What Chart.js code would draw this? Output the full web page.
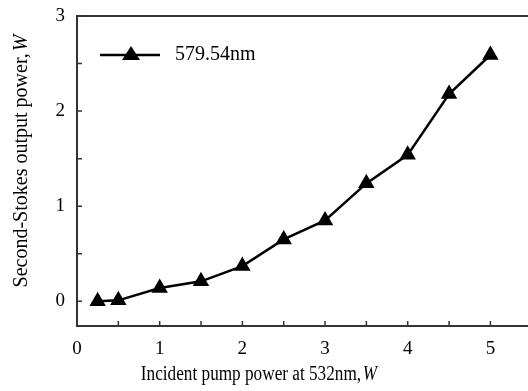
<!DOCTYPE html>
<html>
<head>
<meta charset="utf-8">
<script src="https://cdn.jsdelivr.net/npm/chart.js@4"></script>
<style>
  html, body { margin: 0; padding: 0; background: #fff; }
  #wrap { width: 528px; height: 391px; }
</style>
</head>
<body>
<div id="wrap"><canvas id="chart" width="528" height="391"></canvas></div>
<script>
// data
const pumpPower = [0.25, 0.5, 1, 1.5, 2, 2.5, 3, 3.5, 4, 4.5, 5];
const stokesPower = [0.0, 0.01, 0.14, 0.21, 0.37, 0.65, 0.85, 1.24, 1.54, 2.18, 2.59];
const seriesLabel = "579.54nm";
const xTicks = [0, 1, 2, 3, 4, 5];
const yTicks = [0, 1, 2, 3];
const xTitle = ["Incident pump power at 532nm,", "W"];
const yTitle = ["Second-Stokes output power,", "W"];

const FONT = "Liberation Serif, Times New Roman, serif";

// writes "text, W" with an italic W; squeeze scales along the text direction
function drawTitle(ctx, parts, cx, cy, size, squeeze) {
  ctx.font = size + "px " + FONT;
  const w1 = ctx.measureText(parts[0]).width;
  ctx.font = "italic " + size + "px " + FONT;
  const w2 = ctx.measureText(parts[1]).width;
  const total = w1 + 2 + w2;
  ctx.save();
  ctx.translate(cx, cy);
  ctx.scale(squeeze, 1);
  ctx.textAlign = "left";
  ctx.textBaseline = "alphabetic";
  ctx.font = size + "px " + FONT;
  ctx.fillText(parts[0], -total / 2, 0);
  ctx.font = "italic " + size + "px " + FONT;
  ctx.fillText(parts[1], -total / 2 + w1 + 2, 0);
  ctx.restore();
}

// axis frame, inward ticks, titles and legend
const decor = {
  id: "decor",
  afterDraw(chart) {
    const ctx = chart.ctx;
    const a = chart.chartArea;
    const xs = chart.scales.x, ys = chart.scales.y;
    ctx.save();
    ctx.strokeStyle = "#333";
    ctx.lineWidth = 2;
    ctx.beginPath();
    ctx.moveTo(chart.width, a.top);
    ctx.lineTo(a.left, a.top);
    ctx.lineTo(a.left, a.bottom);
    ctx.lineTo(chart.width, a.bottom);
    ctx.stroke();

    // ticks pointing into the plot
    ctx.lineWidth = 1.5;
    ctx.beginPath();
    for (let v = 0.5; v <= 5.5; v += 0.5) {
      const px = xs.getPixelForValue(v);
      if (px > chart.width) break;
      ctx.moveTo(px, a.bottom);
      ctx.lineTo(px, a.bottom - 5);
    }
    for (let v = 0; v <= 3; v += 0.5) {
      const py = ys.getPixelForValue(v);
      ctx.moveTo(a.left, py);
      ctx.lineTo(a.left + 5, py);
    }
    ctx.stroke();

    ctx.fillStyle = "#000";
    drawTitle(ctx, xTitle, 259, 380, 20, 0.86);

    ctx.save();
    ctx.translate(27, 161);
    ctx.rotate(-Math.PI / 2);
    drawTitle(ctx, yTitle, 0, 0, 20, 1);
    ctx.restore();

    // legend
    const ly = 55;
    ctx.strokeStyle = "#000";
    ctx.lineWidth = 2.5;
    ctx.beginPath();
    ctx.moveTo(100, ly);
    ctx.lineTo(160, ly);
    ctx.stroke();
    ctx.beginPath();
    ctx.moveTo(131, ly - 9);
    ctx.lineTo(140, ly + 5);
    ctx.lineTo(122, ly + 5);
    ctx.closePath();
    ctx.fill();
    ctx.font = "20px " + FONT;
    ctx.textAlign = "left";
    ctx.textBaseline = "middle";
    ctx.fillText(seriesLabel, 175, ly);
    ctx.restore();
  }
};

new Chart(document.getElementById("chart"), {
  type: "line",
  data: {
    datasets: [{
      label: seriesLabel,
      data: pumpPower.map((x, i) => ({ x: x, y: stokesPower[i] })),
      borderColor: "#000",
      backgroundColor: "#000",
      borderWidth: 2.5,
      pointStyle: "triangle",
      pointRadius: 7,
      pointHoverRadius: 7,
      tension: 0
    }]
  },
  options: {
    responsive: false,
    animation: false,
    layout: { padding: { top: 16, right: 0, left: 0, bottom: 0 } },
    plugins: { legend: { display: false }, tooltip: { enabled: false } },
    scales: {
      x: {
        type: "linear",
        min: 0.0,
        max: 5.34,
        afterBuildTicks: s => { s.ticks = xTicks.map(v => ({ value: v })); },
        afterFit: s => { s.height = 65; },
        grid: { display: false },
        border: { display: false },
        ticks: { color: "#000", font: { family: FONT, size: 19 }, padding: 4 }
      },
      y: {
        min: -0.26,
        max: 3,
        afterBuildTicks: s => { s.ticks = yTicks.map(v => ({ value: v })); },
        afterFit: s => { s.width = 77; },
        grid: { display: false },
        border: { display: false },
        ticks: { color: "#000", font: { family: FONT, size: 19 }, padding: 4 }
      }
    }
  },
  plugins: [decor]
});
</script>
</body>
</html>
